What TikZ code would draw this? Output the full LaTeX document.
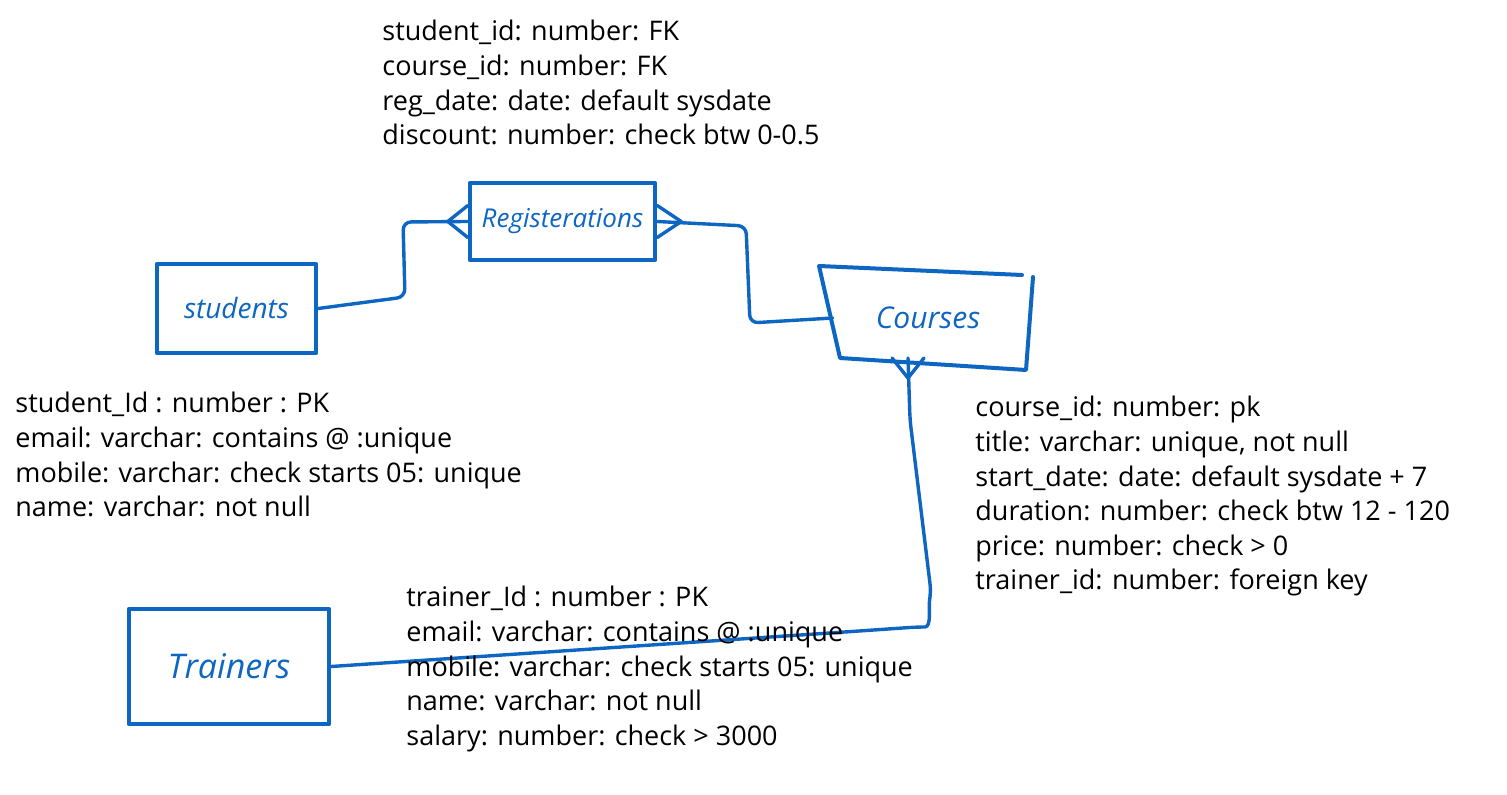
\documentclass[tikz,border=0pt]{standalone}
\usepackage{fontspec}
\setmainfont{Open Sans}
\usepackage{tikz}
\usetikzlibrary{positioning}
\definecolor{inkblue}{RGB}{14,102,195}

\begin{document}
\begin{tikzpicture}[x=0.5pt,y=0.5pt,yscale=-1,xscale=1,
    entity/.style={draw=inkblue,line width=2.2pt,line join=round,text=inkblue,inner sep=0pt,font=\fontsize{13}{15}\selectfont\itshape},
    conn/.style={draw=inkblue,line width=1.7pt,rounded corners=4pt,line cap=round,line join=round},
    foot/.style={draw=inkblue,line width=1.7pt,line cap=round},
    attrs/.style={anchor=north west,inner sep=0pt,align=left,font=\fontsize{13.5}{17.3}\selectfont}]
\useasboundingbox (0,0) rectangle (1507,795);

%Shape: Rectangle [students]
\node[entity,minimum width=79.5pt,minimum height=44.5pt,font=\fontsize{14}{16}\selectfont\itshape] (students) at (236.5,308.5) {students};
%Shape: Rectangle [registrations]
\node[entity,minimum width=92.5pt,minimum height=38.5pt] (registrations) at (562.5,221.5) {Registerations};
%Shape: Rectangle [trainers]
\node[entity,minimum width=100pt,minimum height=57.5pt,font=\fontsize{17}{19}\selectfont\itshape] (trainers) at (229,666.5) {Trainers};
%Shape: hand drawn box [courses]
\node[text=inkblue,inner sep=0pt,minimum width=95pt,minimum height=40pt,font=\fontsize{15}{17}\selectfont\itshape] (courses) at (928,318) {Courses};
\draw[inkblue,line width=2pt,line join=round,line cap=round] (1022,275) -- (819,266) -- (840,358) -- (1026,370) -- (1033,277);

%Straight Lines [students - registrations]
\coordinate (sr1) at (405,297);
\coordinate (sr2) at (403,222);
\draw[conn] (students.east) -- (sr1) -- (sr2) -- (registrations.west);
\draw[foot] ([xshift=-10pt]registrations.west) -- ([yshift=8pt]registrations.west);
\draw[foot] ([xshift=-10pt]registrations.west) -- ([yshift=-8pt]registrations.west);

%Straight Lines [registrations - courses]
\coordinate (rc1) at (746,226);
\coordinate (rc2) at (750,323);
\draw[conn] (registrations.east) -- (rc1) -- (rc2) -- (courses.west);
\draw[foot] ([xshift=12pt]registrations.east) -- ([yshift=8pt]registrations.east);
\draw[foot] ([xshift=12pt]registrations.east) -- ([yshift=-8pt]registrations.east);

%Straight Lines [courses - trainers]
\coordinate (cf) at (908,358);
\coordinate (ct1) at (910,420);
\coordinate (ct2) at (931,592);
\coordinate (ct3) at (917,627);
\coordinate (ct4) at (830,633);
\draw[conn] (cf) -- (ct1) -- (ct2) to[out=100,in=0] (ct3) -- (ct4) -- (trainers.east);
\draw[foot] ([yshift=10pt]cf) -- ([xshift=-8pt]cf);
\draw[foot] ([yshift=10pt]cf) -- ([xshift=8pt]cf);

% Text Node
\node[attrs] (regattrs) at (382,20) {student\_id: number: FK\\course\_id: number: FK\\reg\_date: date: default sysdate\\discount: number: check btw 0-0.5};
% Text Node
\node[attrs] (stuattrs) at (15,392) {student\_Id : number : PK\\email: varchar: contains @ :unique\\mobile: varchar: check starts 05: unique\\name: varchar: not null};
% Text Node
\node[attrs] (couattrs) at (975,396) {course\_id: number: pk\\title: varchar: unique, not null\\start\_date: date: default sysdate + 7\\duration: number: check btw 12 - 120\\price: number: check > 0\\trainer\_id: number: foreign key};
% Text Node
\node[attrs] (traattrs) at (406,586) {trainer\_Id : number : PK\\email: varchar: contains @ :unique\\mobile: varchar: check starts 05: unique\\name: varchar: not null\\salary: number: check > 3000};

\end{tikzpicture}
\end{document}
